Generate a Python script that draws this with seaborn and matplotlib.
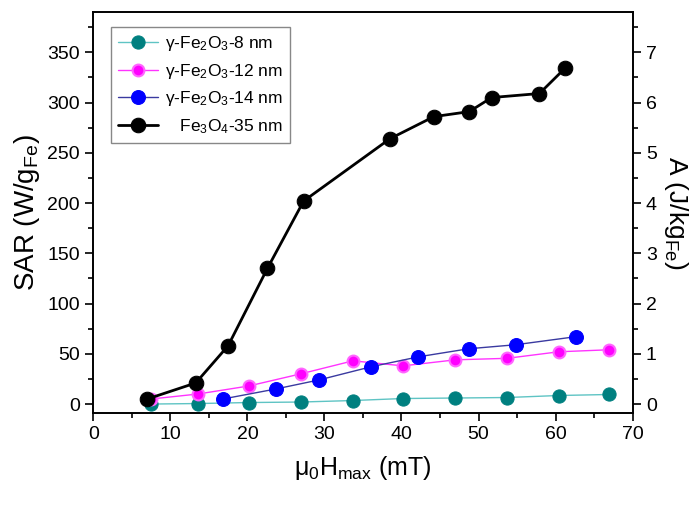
import matplotlib
matplotlib.use("Agg")
import matplotlib.pyplot as plt
from matplotlib.ticker import MultipleLocator
import seaborn as sns

# --------------------- Data ---------------------
h_8nm = [7.5, 13.6, 20.2, 26.9, 33.7, 40.2, 47.0, 53.7, 60.4, 66.9]
sar_8nm = [0, 0.5, 1.5, 2, 3.5, 5.5, 6, 6.5, 8.5, 9.5]

h_12nm = [7.5, 13.6, 20.2, 26.9, 33.7, 40.2, 47.0, 53.7, 60.4, 66.9]
sar_12nm = [5, 10, 18, 30, 43, 38, 44, 45.5, 52, 54]

h_14nm = [16.8, 23.7, 29.3, 36.0, 42.2, 48.7, 54.8, 62.6]
sar_14nm = [5, 15, 24, 37, 47, 55, 59, 67]

h_35nm = [7.0, 13.3, 17.5, 22.6, 27.3, 38.5, 44.2, 48.8, 51.7, 57.9, 61.2]
sar_35nm = [5, 21, 58, 135, 202, 264, 286, 291, 305, 309, 334]

labels = ['γ-Fe$_2$O$_3$-8 nm', 'γ-Fe$_2$O$_3$-12 nm',
          'γ-Fe$_2$O$_3$-14 nm', '   Fe$_3$O$_4$-35 nm']

# --------------------- Style ---------------------
sns.set_style('ticks')
plt.rcParams['font.family'] = ['Liberation Sans', 'DejaVu Sans']
plt.rcParams['mathtext.default'] = 'regular'
plt.rcParams['xtick.color'] = 'black'
plt.rcParams['ytick.color'] = 'black'
plt.rcParams['axes.labelcolor'] = 'black'
plt.rcParams['text.color'] = 'black'

fig = plt.figure(figsize=(6.96, 5.05), dpi=100)
ax = fig.add_axes([0.134, 0.182, 0.775, 0.794])

sns.lineplot(x=h_8nm, y=sar_8nm, ax=ax, sort=False, color='#5fc4c4', lw=1,
             marker='o', markersize=9.5, markerfacecolor='#008080',
             markeredgecolor='#008080', label=labels[0])
sns.lineplot(x=h_12nm, y=sar_12nm, ax=ax, sort=False, color='#ff33ff', lw=1,
             marker='o', markersize=8.5, markerfacecolor='#ff00ff',
             markeredgecolor='#ff66ff', markeredgewidth=1.5, label=labels[1])
sns.lineplot(x=h_14nm, y=sar_14nm, ax=ax, sort=False, color='#3a3aa0', lw=1,
             marker='o', markersize=10, markerfacecolor='#0000ff',
             markeredgecolor='#0000ff', label=labels[2])
sns.lineplot(x=h_35nm, y=sar_35nm, ax=ax, sort=False, color='black', lw=2,
             marker='o', markersize=10.5, markerfacecolor='black',
             markeredgecolor='black', label=labels[3])

ax.set_xlim(0, 70)
ax.set_ylim(-9, 390)
ax.xaxis.set_major_locator(MultipleLocator(10))
ax.xaxis.set_minor_locator(MultipleLocator(5))
ax.yaxis.set_major_locator(MultipleLocator(50))
ax.yaxis.set_minor_locator(MultipleLocator(25))
ax.tick_params(which='major', direction='out', length=6, width=1.2, labelsize=14)
ax.tick_params(which='minor', direction='out', length=3.5, width=1.2)

ax.set_xlabel('μ$_0$H$_{max}$ (mT)', fontsize=18, labelpad=8)
ax.set_ylabel('SAR (W/g$_{Fe}$)', fontsize=20, labelpad=4)

# right axis: specific absorption per cycle
ax2 = ax.twinx()
ax2.set_ylim(-9 / 50, 390 / 50)
ax2.yaxis.set_major_locator(MultipleLocator(1))
ax2.yaxis.set_minor_locator(MultipleLocator(0.5))
ax2.tick_params(which='major', direction='out', length=6, width=1.2, labelsize=14)
ax2.tick_params(which='minor', direction='out', length=3.5, width=1.2)
ax2.set_ylabel('A (J/kg$_{Fe}$)', fontsize=19, rotation=270, labelpad=24)

for a in (ax, ax2):
    for s in a.spines.values():
        s.set_linewidth(1.2)
        s.set_color('black')

leg = ax.legend(loc='upper left', bbox_to_anchor=(0.033, 0.963), borderaxespad=0,
                fontsize=12.5, frameon=True, fancybox=False, framealpha=1,
                edgecolor='#888888', handlelength=2.3, labelspacing=0.5,
                handletextpad=0.4, borderpad=0.4)
leg.get_frame().set_linewidth(1)

fig.savefig('out.png', dpi=100)
